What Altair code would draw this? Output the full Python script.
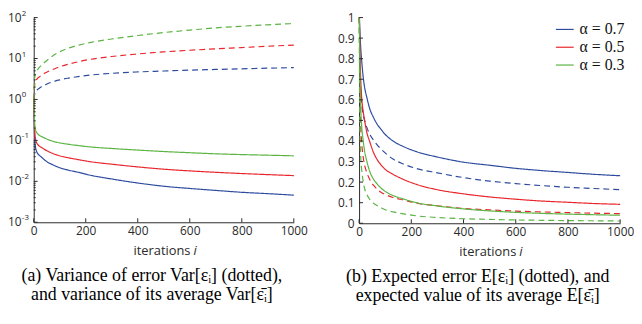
import altair as alt
import pandas as pd

# ---------------- data ----------------
iters = [1, 2, 4, 7, 10, 15, 20, 30, 40, 55, 70, 85, 100, 130, 170, 220, 300, 400, 500, 600, 700, 800, 900, 1000]
alpha_labels = ["α = 0.7", "α = 0.5", "α = 0.3"]
colors = ["#2E4C9F", "#E8262C", "#5BB443"]

# (a) Var[eps_i] (dashed)
var_err_07 = [1.0, 1.15, 1.35, 1.5, 1.6, 1.75, 1.85, 2.05, 2.2, 2.45, 2.65, 2.85, 3.0, 3.3, 3.6, 3.95, 4.35, 4.7, 4.95, 5.2, 5.4, 5.6, 5.8, 6.0]
var_err_05 = [1.0, 1.7, 2.3, 2.75, 3.0, 3.3, 3.5, 3.9, 4.3, 4.8, 5.3, 5.8, 6.3, 7.2, 8.3, 9.6, 11.2, 12.9, 14.5, 15.9, 17.2, 18.5, 19.9, 21.3]
var_err_03 = [1.0, 2.2, 3.5, 4.1, 4.7, 5.3, 5.9, 6.9, 7.9, 9.5, 11.2, 13.0, 14.6, 17.6, 21.0, 24.8, 30.0, 36.5, 43.0, 49.5, 56.0, 61.5, 66.5, 71.5]
# (a) Var[avg eps_i] (solid)
var_avg_07 = [1.0, 0.3, 0.11, 0.068, 0.056, 0.048, 0.044, 0.039, 0.034, 0.029, 0.026, 0.0235, 0.0215, 0.019, 0.0167, 0.014, 0.0114, 0.0091, 0.0076, 0.0067, 0.006, 0.0054, 0.005, 0.0046]
var_avg_05 = [1.0, 0.4, 0.16, 0.107, 0.092, 0.08, 0.074, 0.067, 0.061, 0.054, 0.049, 0.045, 0.042, 0.038, 0.034, 0.03, 0.0262, 0.0225, 0.0198, 0.018, 0.0166, 0.0155, 0.0146, 0.0138]
var_avg_03 = [1.0, 0.5, 0.25, 0.18, 0.16, 0.145, 0.135, 0.124, 0.116, 0.105, 0.097, 0.091, 0.087, 0.081, 0.075, 0.069, 0.0635, 0.058, 0.0535, 0.05, 0.047, 0.045, 0.0435, 0.042]

# (b) E[eps_i] (dashed)
exp_err_07 = [1.0, 0.86, 0.72, 0.63, 0.58, 0.53, 0.505, 0.465, 0.435, 0.405, 0.38, 0.36, 0.342, 0.312, 0.288, 0.266, 0.245, 0.222, 0.205, 0.193, 0.183, 0.175, 0.169, 0.163]
exp_err_05 = [1.0, 0.78, 0.58, 0.46, 0.39, 0.33, 0.29, 0.245, 0.215, 0.185, 0.165, 0.15, 0.14, 0.125, 0.113, 0.098, 0.085, 0.072, 0.065, 0.059, 0.055, 0.052, 0.049, 0.047]
exp_err_03 = [1.0, 0.62, 0.42, 0.31, 0.26, 0.21, 0.175, 0.14, 0.118, 0.098, 0.085, 0.075, 0.066, 0.055, 0.046, 0.036, 0.028, 0.022, 0.019, 0.016, 0.0145, 0.013, 0.012, 0.011]
# (b) E[avg eps_i] (solid)
exp_avg_07 = [1.0, 0.97, 0.91, 0.84, 0.79, 0.72, 0.67, 0.61, 0.56, 0.515, 0.48, 0.455, 0.432, 0.4, 0.373, 0.348, 0.322, 0.297, 0.282, 0.267, 0.256, 0.247, 0.238, 0.231]
exp_avg_05 = [1.0, 0.93, 0.8, 0.68, 0.61, 0.55, 0.51, 0.44, 0.4, 0.345, 0.308, 0.282, 0.262, 0.238, 0.213, 0.189, 0.163, 0.143, 0.128, 0.117, 0.108, 0.102, 0.096, 0.092]
exp_avg_03 = [1.0, 0.86, 0.68, 0.54, 0.47, 0.41, 0.36, 0.3, 0.255, 0.215, 0.19, 0.17, 0.155, 0.135, 0.118, 0.1, 0.084, 0.07, 0.06, 0.053, 0.048, 0.0445, 0.0415, 0.039]

x_ticks = [0, 200, 400, 600, 800, 1000]
log_exponents = [-3, -2, -1, 0, 1, 2]
lin_ticks = [0, 0.1, 0.2, 0.3, 0.4, 0.5, 0.6, 0.7, 0.8, 0.9, 1]

caption_a = ["(a) Variance of error Var[εᵢ] (dotted),", "and variance of its average Var[ε̄ᵢ]"]
caption_b = ["(b) Expected error E[εᵢ] (dotted), and", "expected value of its average E[ε̄ᵢ]"]


def long_df(series):
    rows = []
    for alpha, kind, vals in series:
        for i, v in zip(iters, vals):
            rows.append({"i": i, "v": v, "alpha": alpha, "kind": kind})
    return pd.DataFrame(rows)


df_a = long_df([
    (alpha_labels[0], "err", var_err_07), (alpha_labels[1], "err", var_err_05), (alpha_labels[2], "err", var_err_03),
    (alpha_labels[0], "avg", var_avg_07), (alpha_labels[1], "avg", var_avg_05), (alpha_labels[2], "avg", var_avg_03),
])
df_b = long_df([
    (alpha_labels[0], "err", exp_err_07), (alpha_labels[1], "err", exp_err_05), (alpha_labels[2], "err", exp_err_03),
    (alpha_labels[0], "avg", exp_avg_07), (alpha_labels[1], "avg", exp_avg_05), (alpha_labels[2], "avg", exp_avg_03),
])

FONT = "Open Sans"
AX = "#2a2a2a"
W_L, H_L = 263, 207
W_R, H_R = 264, 208

x_axis = alt.Axis(values=x_ticks, format="d", title=None, grid=False, ticks=False, tickSize=0,
                  labelFont=FONT, labelFontSize=12, labelColor=AX, labelPadding=3,
                  domainColor=AX, labelFlush=False)
x_enc = alt.X("i:Q", scale=alt.Scale(domain=[0, 1000], nice=False), axis=x_axis)


def panel(df, y_enc, W, H, extra_layers, legend, caption):
    color = alt.Color("alpha:N", scale=alt.Scale(domain=alpha_labels, range=colors), legend=legend)
    dash = alt.StrokeDash("kind:N", scale=alt.Scale(domain=["avg", "err"], range=[[1, 0], [6, 4]]), legend=None)
    lines = alt.Chart(df).mark_line(strokeWidth=1.2, interpolate="monotone").encode(
        x=x_enc, y=y_enc, color=color, strokeDash=dash)
    xt = alt.Chart(pd.DataFrame({"i": x_ticks})).mark_rule(color=AX, strokeWidth=1).encode(
        x=x_enc, y=alt.value(H), y2=alt.value(H - 4))
    one = pd.DataFrame({"t": [0]})
    t1 = alt.Chart(one).mark_text(text="iterations", align="right", baseline="alphabetic",
                                  font=FONT, fontSize=13, color=AX).encode(
        x=alt.value(W / 2 + 27), y=alt.value(H + 33))
    t2 = alt.Chart(one).mark_text(text="i", align="left", baseline="alphabetic",
                                  font=FONT, fontSize=13, fontStyle="italic", color=AX).encode(
        x=alt.value(W / 2 + 30), y=alt.value(H + 33))
    return alt.layer(lines, xt, *extra_layers, t1, t2).properties(
        width=W, height=H,
        title=alt.TitleParams(caption, orient="bottom", anchor="middle", frame="group", dx=-12,
                              font="Liberation Serif", fontSize=18, fontWeight="normal",
                              color="#000", lineHeight=20, offset=9))


# ---- left panel (log) ----
y_axis_a = alt.Axis(labels=False, ticks=False, tickSize=0, title=None, grid=False, domainColor=AX)
y_enc_a = alt.Y("v:Q", scale=alt.Scale(type="log", domain=[0.001, 100], nice=False), axis=y_axis_a)
major_a = pd.DataFrame({"v": [10.0 ** e for e in log_exponents],
                        "base": ["10"] * len(log_exponents),
                        "exp": [str(e) for e in log_exponents]})
minor_a = pd.DataFrame({"v": [k * 10.0 ** e for e in log_exponents[:-1] for k in range(2, 10)]})
ytm_a = alt.Chart(major_a).mark_rule(color=AX).encode(y=y_enc_a, x=alt.value(0), x2=alt.value(4))
ytn_a = alt.Chart(minor_a).mark_rule(color=AX).encode(y=y_enc_a, x=alt.value(0), x2=alt.value(2))
lab10 = alt.Chart(major_a).mark_text(align="left", baseline="middle", font=FONT, fontSize=12, color=AX).encode(
    y=y_enc_a, x=alt.value(-26), text="base:N")
labexp = alt.Chart(major_a).mark_text(align="left", baseline="middle", font=FONT, fontSize=8, dy=-4, color=AX).encode(
    y=y_enc_a, x=alt.value(-12), text="exp:N")
left = panel(df_a, y_enc_a, W_L, H_L, [ytm_a, ytn_a, lab10, labexp], None, caption_a)

# ---- right panel (linear) ----
y_axis_b = alt.Axis(values=lin_ticks, labelExpr="format(datum.value, '~g')", title=None, grid=False,
                    ticks=False, tickSize=0, labelFont=FONT, labelFontSize=12, labelColor=AX,
                    labelPadding=5, domainColor=AX, labelFlush=False)
y_enc_b = alt.Y("v:Q", scale=alt.Scale(domain=[0, 1], nice=False), axis=y_axis_b)
ticks_b = pd.DataFrame({"v": lin_ticks})
ytm_b = alt.Chart(ticks_b).mark_rule(color=AX).encode(y=y_enc_b, x=alt.value(0), x2=alt.value(4))
legend_b = alt.Legend(orient="none", legendX=198, legendY=2, title=None, symbolType="stroke",
                      symbolStrokeWidth=1.2, symbolSize=324, labelFont="Liberation Serif",
                      labelFontSize=16, labelColor="#111", rowPadding=0, padding=0, labelOffset=5)
right = panel(df_b, y_enc_b, W_R, H_R, [ytm_b], legend_b, caption_b)

chart = alt.hconcat(left, right, spacing=66, bounds="flush").resolve_legend(color="independent").configure_view(
    stroke=None).properties(padding={"left": 0, "top": 0, "right": 0, "bottom": 0})

chart.save("out.html", embed_options={"renderer": "svg", "actions": False})
